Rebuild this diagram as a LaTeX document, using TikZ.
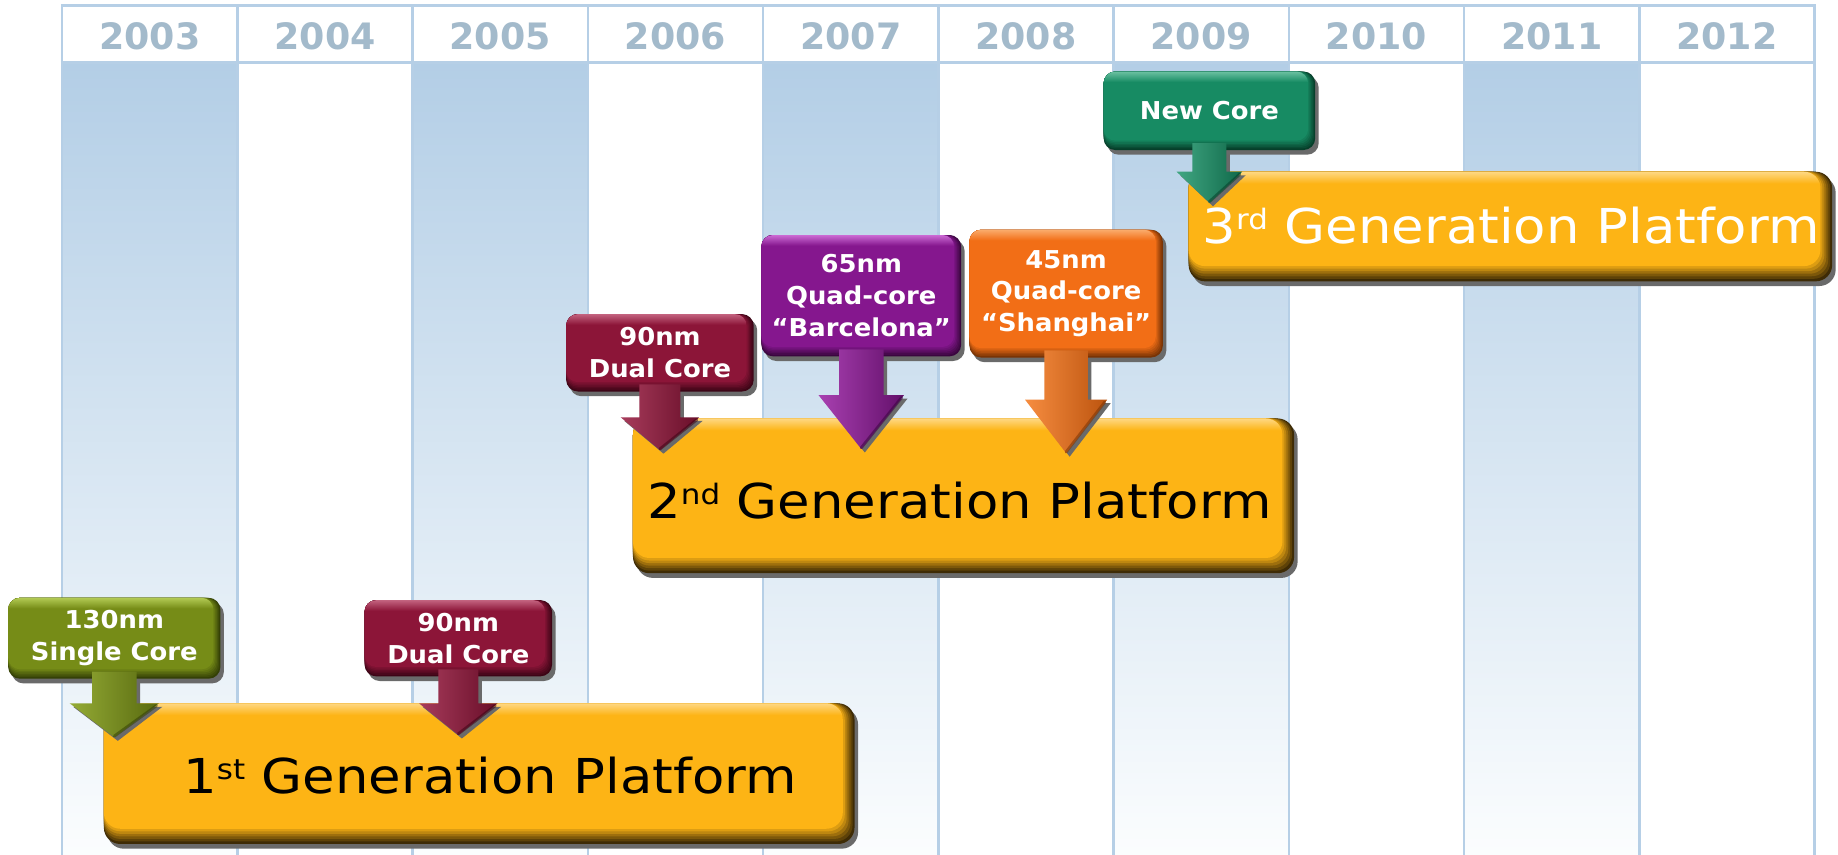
\documentclass[tikz,border=0pt]{standalone}
\usepackage{fontspec}
\setmainfont{DejaVu Sans}
\usetikzlibrary{calc}
\definecolor{gridc}{HTML}{B6CFE6}
\definecolor{colB}{HTML}{B3CEE6}
\definecolor{colBend}{HTML}{FBFDFE}
\definecolor{yearc}{HTML}{A3BACB}
\definecolor{shadowc}{HTML}{6A6A6A}
\definecolor{plM}{HTML}{FDB415}\definecolor{plD}{HTML}{3E2B05}\definecolor{plL}{HTML}{FEDB8E}
\definecolor{olM}{HTML}{768C17}\definecolor{olD}{HTML}{344006}\definecolor{olL}{HTML}{B9D15A}
\definecolor{mrM}{HTML}{8C1538}\definecolor{mrD}{HTML}{3D0516}\definecolor{mrL}{HTML}{C86A86}
\definecolor{puM}{HTML}{85178E}\definecolor{puD}{HTML}{3A063F}\definecolor{puL}{HTML}{D373DB}
\definecolor{orM}{HTML}{F26E16}\definecolor{orD}{HTML}{7A3405}\definecolor{orL}{HTML}{FBB274}
\definecolor{grM}{HTML}{178B63}\definecolor{grD}{HTML}{063F2A}\definecolor{grL}{HTML}{74C7A8}
\newcommand\sx[1]{\scalebox{1.05}[1]{#1}}
\newcommand\px[1]{\scalebox{1.1}[1]{#1}}
\newcommand\supr[1]{\raisebox{12pt}{\fontsize{24}{24}\selectfont #1}}
\pgfdeclarelayer{grid}\pgfdeclarelayer{platbg}\pgfdeclarelayer{plattext}
\pgfdeclarelayer{arrshadow}\pgfdeclarelayer{callbg}\pgfdeclarelayer{arrows}
\pgfsetlayers{grid,platbg,plattext,arrshadow,callbg,arrows,main}
% #1 node, #2 main, #3 dark, #4 light, #5 radius, #6 band x, #7 band y, #8 highlight height
\newcommand\bevel[8]{%
  \fill[shadowc, rounded corners=#5] ($(#1.north west)+(3,4)$) rectangle ($(#1.south east)+(3,4)$);
  \fill[#3, rounded corners=#5] (#1.north west) rectangle (#1.south east);
  \foreach \k in {1,...,6}{%
    \pgfmathtruncatemacro\pp{round(\k*100/6)}%
    \fill[#2!\pp!#3, rounded corners=#5] (#1.north west) rectangle ($(#1.south east)+({-\k*#6/6},{-\k*#7/6})$);
  }
  \begin{scope}
    \clip[rounded corners=#5] (#1.north west) rectangle ($(#1.south east)+(-#6,-#7)$);
    \shade[top color=#4, bottom color=#2] ($(#1.north west)+(0,-1)$) rectangle ($(#1.north east)+(-#6,#8)$);
  \end{scope}}
% #1 options, #2 node, #3 tip, #4 stem half, #5 head half, #6 head length, #7 dx, #8 dy
\newcommand\arrshape[8]{%
  \path[#1] ($(#2.south)+({-#4+#7},{-6+#8})$) -- ($(#3)+({-#4+#7},{-#6+#8})$)
    -- ($(#3)+({-#5+#7},{-#6+#8})$) -- ($(#3)+(#7,#8)$) -- ($(#3)+({#5+#7},{-#6+#8})$)
    -- ($(#3)+({#4+#7},{-#6+#8})$) -- ($(#2.south)+({#4+#7},{-6+#8})$) -- cycle;}
% darker right edge of an arrow head: #1 dark colour, #2 tip, #3 head half, #4 head length
\newcommand\arredge[4]{%
  \draw[#1, line width=2.5pt, opacity=.55, line cap=round] ($(#2)+({#3-2},{-#4+2})$) -- ($(#2)+(0,-1)$);}
\begin{document}
\begin{tikzpicture}[x=1pt,y=-1pt,
  callout/.style={inner sep=0pt, outer sep=0pt, align=center, text=white,
    font=\bfseries\fontsize{21}{27}\selectfont},
  platbox/.style={inner sep=0pt, outer sep=0pt},
  plattext/.style={anchor=base, inner sep=0pt, font=\fontsize{41}{45}\selectfont},
  year/.style={text=yearc, font=\bfseries\fontsize{31}{35}\selectfont, inner sep=0pt}]
\useasboundingbox (0,0) rectangle (1568,729);
\begin{pgfonlayer}{grid}
  \fill[white] (0,0) rectangle (1568,729);
  \foreach \k in {0,2,4,6,8}
    \shade[top color=colB, bottom color=colBend] ({53+149.5*\k},53) rectangle ({53+149.5*(\k+1)},729);
  \foreach \k in {0,...,10}
    \draw[gridc, line width=2pt] ({53+149.5*\k},5) -- ({53+149.5*\k},729);
  \draw[gridc, line width=2.5pt] (52,5) -- (1549,5) (52,53) -- (1549,53);
  \foreach \yr [count=\i from 0] in {2003,...,2012}
    \node[year] (y\yr) at ({53+149.5*\i+74.75},31) {\yr};
\end{pgfonlayer}
% platforms
\node[platbox, minimum width=640.4pt, minimum height=120pt] (p1) at (408.8,660) {};
\node[platbox, minimum width=564pt, minimum height=132pt] (p2) at (822,423) {};
\node[platbox, minimum width=549pt, minimum height=93.5pt] (p3) at (1288.5,193.25) {};
\begin{pgfonlayer}{plattext}
  \node[plattext] (p1l) at (418,677) {\px{1\supr{st} Generation Platform}};
  \node[plattext] (p2l) at (818.5,442) {\px{2\supr{nd} Generation Platform}};
  \node[plattext, text=white] (p3l) at (1289,207.6) {\px{3\supr{rd} Generation Platform}};
\end{pgfonlayer}
% callouts
\node[callout, minimum width=181pt, minimum height=69pt] (c1) at (97.5,544.5) {\sx{130nm}\\\sx{Single Core}};
\node[callout, minimum width=160pt, minimum height=65pt] (c2) at (391,544.5) {\sx{90nm}\\\sx{Dual Core}};
\node[callout, minimum width=160pt, minimum height=66pt] (c3) at (563,301) {\sx{90nm}\\\sx{Dual Core}};
\node[callout, minimum width=170.5pt, minimum height=103.5pt] (c4) at (734.75,252.25) {\sx{65nm}\\\sx{Quad-core}\\\sx{“Barcelona”}};
\node[callout, minimum width=165pt, minimum height=109pt] (c5) at (909.5,250.5) {\sx{45nm}\\\sx{Quad-core}\\\sx{“Shanghai”}};
\node[callout, minimum width=180.5pt, minimum height=67pt] (c6) at (1031.75,94.5) {\sx{New Core}};
% arrow tips
\coordinate (t1) at ($(c1.south |- p1.north)+(0,29)$);
\coordinate (t2) at ($(c2.south |- p1.north)+(0,27)$);
\coordinate (t3) at ($(c3.south |- p2.north)+(0,27)$);
\coordinate (t4) at ($(c4.south |- p2.north)+(0,26)$);
\coordinate (t5) at ($(c5.south |- p2.north)+(0,29.6)$);
\coordinate (t6) at ($(c6.south |- p3.north)+(0,26.5)$);
\begin{pgfonlayer}{platbg}
  \bevel{p1}{plM}{plD}{plL}{14pt}{10}{13}{10}
  \bevel{p2}{plM}{plD}{plL}{14pt}{10}{13}{10}
  \bevel{p3}{plM}{plD}{plL}{14pt}{10}{13}{10}
\end{pgfonlayer}
\begin{pgfonlayer}{arrshadow}
  \arrshape{fill=shadowc}{c1}{t1}{19}{38}{29}{3}{3}
  \arrshape{fill=shadowc}{c2}{t2}{17}{33.5}{27}{3}{3}
  \arrshape{fill=shadowc}{c3}{t3}{17.5}{33.5}{28}{3}{3}
  \arrshape{fill=shadowc}{c4}{t4}{19}{36.5}{46}{3}{3}
  \arrshape{fill=shadowc}{c5}{t5}{18.5}{35}{45.6}{3}{3}
  \arrshape{fill=shadowc}{c6}{t6}{14.5}{28}{26.5}{3}{3}
\end{pgfonlayer}
\begin{pgfonlayer}{callbg}
  \bevel{c1}{olM}{olD}{olL}{10pt}{6}{8}{9}
  \bevel{c2}{mrM}{mrD}{mrL}{10pt}{6}{8}{9}
  \bevel{c3}{mrM}{mrD}{mrL}{10pt}{6}{8}{9}
  \bevel{c4}{puM}{puD}{puL}{10pt}{6}{8}{9}
  \bevel{c5}{orM}{orD}{orL}{10pt}{6}{8}{9}
  \bevel{c6}{grM}{grD}{grL}{10pt}{6}{8}{9}
\end{pgfonlayer}
\begin{pgfonlayer}{arrows}
  \arrshape{left color=olL!45!olM, middle color=olM, right color=olD!45!olM}{c1}{t1}{19}{38}{29}{0}{0}
  \arrshape{left color=mrL!45!mrM, middle color=mrM, right color=mrD!45!mrM}{c2}{t2}{17}{33.5}{27}{0}{0}
  \arrshape{left color=mrL!45!mrM, middle color=mrM, right color=mrD!45!mrM}{c3}{t3}{17.5}{33.5}{28}{0}{0}
  \arrshape{left color=puL!45!puM, middle color=puM, right color=puD!45!puM}{c4}{t4}{19}{36.5}{46}{0}{0}
  \arrshape{left color=orL!45!orM, middle color=orM, right color=orD!45!orM}{c5}{t5}{18.5}{35}{45.6}{0}{0}
  \arrshape{left color=grL!45!grM, middle color=grM, right color=grD!45!grM}{c6}{t6}{14.5}{28}{26.5}{0}{0}
  \arredge{olD}{t1}{38}{29}
  \arredge{mrD}{t2}{33.5}{27}
  \arredge{mrD}{t3}{33.5}{28}
  \arredge{puD}{t4}{36.5}{46}
  \arredge{orD}{t5}{35}{45.6}
  \arredge{grD}{t6}{28}{26.5}
\end{pgfonlayer}
\end{tikzpicture}
\end{document}
